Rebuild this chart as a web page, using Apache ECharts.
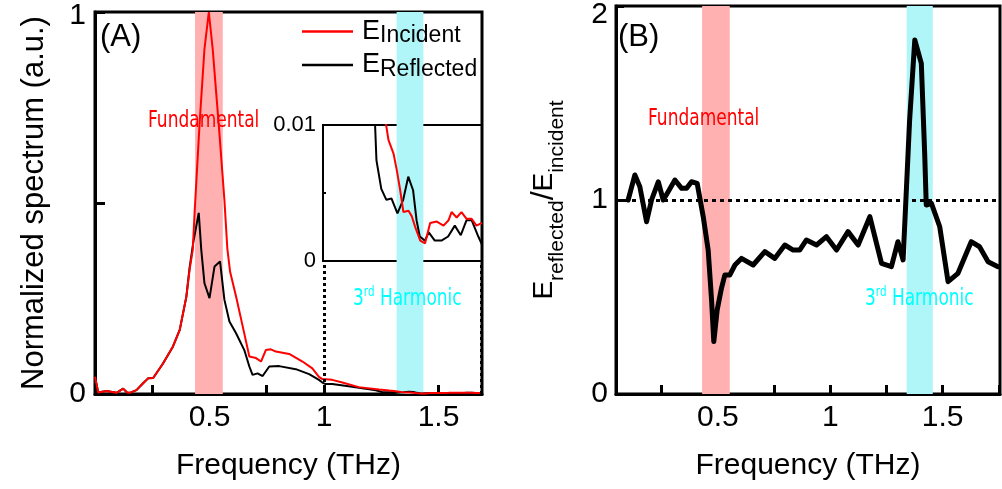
<!DOCTYPE html>
<html>
<head>
<meta charset="utf-8">
<script src="https://cdn.jsdelivr.net/npm/echarts@6/dist/echarts.min.js"></script>
<style>
html, body { margin: 0; padding: 0; background: #fff; }
#main { width: 1002px; height: 489px; }
</style>
</head>
<body>
<div id="main"></div>
<script>
// panel A: normalized spectra, [frequency THz, amplitude]
var incident = [
    [0, 0.045], [0.014, 0.004], [0.05, 0.008], [0.094, 0.003], [0.123, 0.014], [0.14, 0.004],
    [0.152, 0.003], [0.181, 0.01], [0.21, 0.028], [0.232, 0.041], [0.254, 0.042], [0.297, 0.08],
    [0.34, 0.124], [0.37, 0.168], [0.399, 0.255], [0.413, 0.325], [0.427, 0.378], [0.435, 0.475],
    [0.457, 0.711], [0.478, 0.903], [0.497, 1.0], [0.514, 0.903], [0.543, 0.685], [0.565, 0.509],
    [0.578, 0.38], [0.59, 0.32], [0.616, 0.255], [0.645, 0.177], [0.674, 0.098], [0.703, 0.094],
    [0.725, 0.085], [0.746, 0.115], [0.768, 0.117], [0.79, 0.111], [0.848, 0.105], [0.906, 0.085],
    [0.949, 0.067], [0.978, 0.045], [0.993, 0.039], [1.036, 0.037], [1.08, 0.03], [1.152, 0.018],
    [1.24, 0.0115], [1.274, 0.01], [1.284, 0.0089], [1.306, 0.0079], [1.32, 0.0067], [1.335, 0.0052],
    [1.349, 0.0036], [1.371, 0.0037], [1.385, 0.0033], [1.4, 0.0025], [1.422, 0.0015], [1.443, 0.0013],
    [1.465, 0.0028], [1.494, 0.0029], [1.523, 0.0026], [1.545, 0.003], [1.558, 0.0036], [1.58, 0.0032],
    [1.601, 0.0036], [1.623, 0.0031], [1.645, 0.0031], [1.666, 0.0026], [1.69, 0.0028]
];
var reflected = [
    [0, 0.045], [0.014, 0.004], [0.05, 0.008], [0.094, 0.003], [0.123, 0.014], [0.14, 0.004],
    [0.152, 0.003], [0.181, 0.01], [0.21, 0.028], [0.232, 0.041], [0.254, 0.042], [0.297, 0.08],
    [0.34, 0.124], [0.37, 0.168], [0.399, 0.255], [0.413, 0.33], [0.43, 0.4], [0.453, 0.474],
    [0.464, 0.378], [0.478, 0.29], [0.5, 0.251], [0.522, 0.334], [0.546, 0.347], [0.565, 0.247],
    [0.587, 0.19], [0.616, 0.159], [0.652, 0.115], [0.674, 0.072], [0.688, 0.05], [0.71, 0.054],
    [0.732, 0.047], [0.761, 0.072], [0.804, 0.073], [0.877, 0.065], [0.935, 0.052], [0.978, 0.037],
    [0.993, 0.03], [1.007, 0.026], [1.036, 0.026], [1.123, 0.019], [1.19, 0.013], [1.226, 0.01],
    [1.232, 0.0074], [1.253, 0.0053], [1.275, 0.0045], [1.297, 0.0046], [1.323, 0.0035], [1.348, 0.0045],
    [1.37, 0.0062], [1.391, 0.0052], [1.406, 0.003], [1.42, 0.0018], [1.442, 0.0015], [1.459, 0.0021],
    [1.485, 0.0015], [1.514, 0.0015], [1.543, 0.0018], [1.572, 0.0026], [1.598, 0.0019], [1.623, 0.003],
    [1.645, 0.003], [1.674, 0.0018], [1.69, 0.0012]
];
// panel B: E_reflected / E_incident
var ratio = [
    [0.101, 1.0], [0.131, 1.129], [0.153, 1.069], [0.183, 0.888], [0.205, 1.0], [0.235, 1.094],
    [0.257, 1.0], [0.279, 1.043], [0.309, 1.103], [0.339, 1.06], [0.361, 1.06], [0.383, 1.094],
    [0.408, 1.086], [0.435, 0.914], [0.457, 0.742], [0.472, 0.485], [0.482, 0.27], [0.497, 0.433],
    [0.516, 0.545], [0.531, 0.613], [0.553, 0.613], [0.576, 0.665], [0.605, 0.699], [0.657, 0.665],
    [0.709, 0.734], [0.753, 0.699], [0.798, 0.768], [0.835, 0.742], [0.864, 0.742], [0.894, 0.794],
    [0.939, 0.768], [0.983, 0.811], [1.028, 0.742], [1.079, 0.837], [1.124, 0.768], [1.176, 0.914],
    [1.228, 0.673], [1.272, 0.656], [1.301, 0.785], [1.324, 0.691], [1.353, 1.412], [1.376, 1.825],
    [1.405, 1.704], [1.42, 1.24], [1.427, 0.974], [1.45, 0.983], [1.487, 0.862], [1.524, 0.579],
    [1.568, 0.622], [1.627, 0.785], [1.664, 0.759], [1.702, 0.682], [1.746, 0.656]
];
// ticks / labels
var ticksXA = [0.25, 0.5, 0.75, 1, 1.5];
var ticksXB = [0.25, 0.5, 0.75, 1, 1.25, 1.5, 1.75];
var labelsX = [0.5, 1, 1.5];
var ticksYA = [0.5, 1], labelsYA = [0, 1];
var ticksYB = [1, 2], labelsYB = [0, 1, 2];
var ticksInset = [0.005], labelsInset = [0, 0.01];
// shaded bands (THz)
var fundA = [0.437, 0.558], harmA = [1.317, 1.434];
var fundB = [0.43, 0.553], harmB = [1.34, 1.456];

var FONT = 'Liberation Sans';
var chart = echarts.init(document.getElementById('main'));

function bands(f, h) {
    return {
        silent: true,
        data: [
            [{ xAxis: f[0], itemStyle: { color: '#FFB0B0' } }, { xAxis: f[1] }],
            [{ xAxis: h[0], itemStyle: { color: '#B0F5F8' } }, { xAxis: h[1] }]
        ]
    };
}
function xAxisCfg(grid, min, max, ticks, name) {
    return {
        type: 'value', gridIndex: grid, min: min, max: max,
        axisLine: { onZero: false, lineStyle: { color: '#000', width: 3 } },
        axisTick: { inside: true, length: 9, customValues: ticks, lineStyle: { color: '#000', width: 3 } },
        axisLabel: { customValues: labelsX, color: '#000', fontSize: 30, fontFamily: FONT, margin: 9 },
        splitLine: { show: false },
        name: name, nameLocation: 'middle', nameGap: 55, nameMoveOverlap: false,
        nameTextStyle: { color: '#000', fontSize: 30, fontFamily: FONT, lineHeight: 34 }
    };
}
// labels drawn above the shaded bands, below the curves
function note(x, y, text, color) {
    return {
        type: 'text', x: x, y: y, z: 1.5, scaleX: 0.74,
        style: {
            text: text, fill: color, verticalAlign: 'top',
            rich: {
                n: { fontSize: 23, lineHeight: 28, fontFamily: 'DejaVu Sans', fill: color },
                u: { fontSize: 14, lineHeight: 16, verticalAlign: 'top', fontFamily: 'DejaVu Sans', fill: color }
            }
        }
    };
}

var option = {
    animation: false,
    grid: [
        { left: 95, top: 12, width: 387, height: 382, show: true, borderColor: '#000', borderWidth: 3, outerBoundsMode: 'none' },
        { left: 323, top: 125, width: 159, height: 136, show: true, borderColor: '#000', borderWidth: 2, backgroundColor: 'rgba(0,0,0,0)', outerBoundsMode: 'none' },
        { left: 616, top: 6, width: 384, height: 388, show: true, borderColor: '#000', borderWidth: 3, outerBoundsMode: 'none' }
    ],
    xAxis: [
        xAxisCfg(0, 0, 1.69, ticksXA, 'Frequency (THz)'),
        {
            type: 'value', gridIndex: 1, min: 1, max: 1.69,
            axisLine: { lineStyle: { color: '#000', width: 2 } },
            axisTick: { show: false }, axisLabel: { show: false }, splitLine: { show: false }
        },
        xAxisCfg(2, 0.047, 1.755, ticksXB, 'Frequency (THz)')
    ],
    yAxis: [
        {
            type: 'value', gridIndex: 0, min: 0, max: 1,
            axisLine: { lineStyle: { color: '#000', width: 3 } },
            axisTick: { inside: true, length: 10, customValues: ticksYA, lineStyle: { color: '#000', width: 3 } },
            axisLabel: {
                customValues: labelsYA, color: '#000', fontSize: 30, fontFamily: FONT, margin: 9,
                lineHeight: 8, verticalAlignMaxLabel: 'top'
            },
            splitLine: { show: false },
            name: 'Normalized spectrum (a.u.)', nameLocation: 'middle', nameRotate: 90, nameGap: 44,
            nameMoveOverlap: false,
            nameTextStyle: { color: '#000', fontSize: 31, fontFamily: FONT, lineHeight: 34 }
        },
        {
            type: 'value', gridIndex: 1, min: 0, max: 0.01,
            axisLine: { lineStyle: { color: '#000', width: 2 } },
            axisTick: { inside: true, length: 3, customValues: ticksInset, lineStyle: { color: '#000', width: 2 } },
            axisLabel: { customValues: labelsInset, color: '#000', fontSize: 22, fontFamily: FONT, margin: 7 },
            splitLine: { show: false }
        },
        {
            type: 'value', gridIndex: 2, min: 0, max: 2,
            axisLine: { lineStyle: { color: '#000', width: 3 } },
            axisTick: { inside: true, length: 8, customValues: ticksYB, lineStyle: { color: '#000', width: 3 } },
            axisLabel: {
                customValues: labelsYB, color: '#000', fontSize: 30, fontFamily: FONT, margin: 8,
                lineHeight: 18, verticalAlignMaxLabel: 'top'
            },
            splitLine: { show: false },
            name: '{e|E}{s|reflected}{sl|/}{e|E}{s|incident}',
            nameLocation: 'middle', nameRotate: 90, nameGap: 48, nameMoveOverlap: false,
            nameTextStyle: {
                rich: {
                    e: { fontSize: 28, lineHeight: 48, color: '#000', fontFamily: FONT },
                    sl: { fontSize: 32, lineHeight: 48, color: '#000', fontFamily: FONT },
                    s: { fontSize: 21, lineHeight: 19, verticalAlign: 'bottom', color: '#000', fontFamily: FONT }
                }
            }
        }
    ],
    legend: {
        orient: 'vertical', left: 302, top: 18, padding: 0, itemGap: 4,
        icon: 'rect', itemWidth: 51, itemHeight: 2.5,
        data: ['Incident', 'Reflected'],
        formatter: function (n) { return '{e|E}{s|' + n + '}'; },
        textStyle: {
            rich: {
                e: { fontSize: 27, lineHeight: 32, padding: [0, 0, 0, 4], color: '#000', fontFamily: FONT },
                s: { fontSize: 23, lineHeight: 13, verticalAlign: 'bottom', color: '#000', fontFamily: FONT }
            }
        }
    },
    series: [
        {
            name: 'Reflected', type: 'line', xAxisIndex: 0, yAxisIndex: 0, data: reflected,
            symbol: 'none', color: '#000', lineStyle: { width: 2 },
            markArea: bands(fundA, harmA),
            markLine: {
                silent: true, symbol: 'none', label: { show: false },
                lineStyle: { color: '#000', width: 3, type: [3, 3] },
                data: [
                    [{ coord: [1, 0] }, { coord: [1, 0.348] }],
                    [{ coord: [1.688, 0] }, { coord: [1.688, 0.348] }]
                ]
            }
        },
        {
            name: 'Incident', type: 'line', xAxisIndex: 0, yAxisIndex: 0, data: incident,
            symbol: 'none', color: '#FF0000', lineStyle: { width: 2 }
        },
        {
            name: 'Reflected', type: 'line', xAxisIndex: 1, yAxisIndex: 1, data: reflected,
            symbol: 'none', color: '#000', lineStyle: { width: 2 }
        },
        {
            name: 'Incident', type: 'line', xAxisIndex: 1, yAxisIndex: 1, data: incident,
            symbol: 'none', color: '#FF0000', lineStyle: { width: 2 }
        },
        {
            name: 'Ratio', type: 'line', xAxisIndex: 2, yAxisIndex: 2, data: ratio,
            symbol: 'none', color: '#000', lineStyle: { width: 5, join: 'round', cap: 'round' },
            markArea: bands(fundB, harmB),
            markLine: {
                silent: true, symbol: 'none', label: { show: false },
                lineStyle: { color: '#000', width: 3, type: [4, 4] },
                data: [{ yAxis: 1 }]
            }
        }
    ],
    graphic: [
        { type: 'text', x: 100, y: 22, z: 1.5, style: { text: '(A)', font: '31px "Liberation Sans"', fill: '#000', verticalAlign: 'top' } },
        { type: 'text', x: 618, y: 22, z: 1.5, style: { text: '(B)', font: '31px "Liberation Sans"', fill: '#000', verticalAlign: 'top' } },
        note(148, 107, '{n|Fundamental}', '#FF0000'),
        note(648, 105, '{n|Fundamental}', '#FF0000'),
        note(353, 285, '{n|3}{u|rd}{n| Harmonic}', '#00FFFF'),
        note(865, 285, '{n|3}{u|rd}{n| Harmonic}', '#00FFFF')
    ]
};
chart.setOption(option);
</script>
</body>
</html>
